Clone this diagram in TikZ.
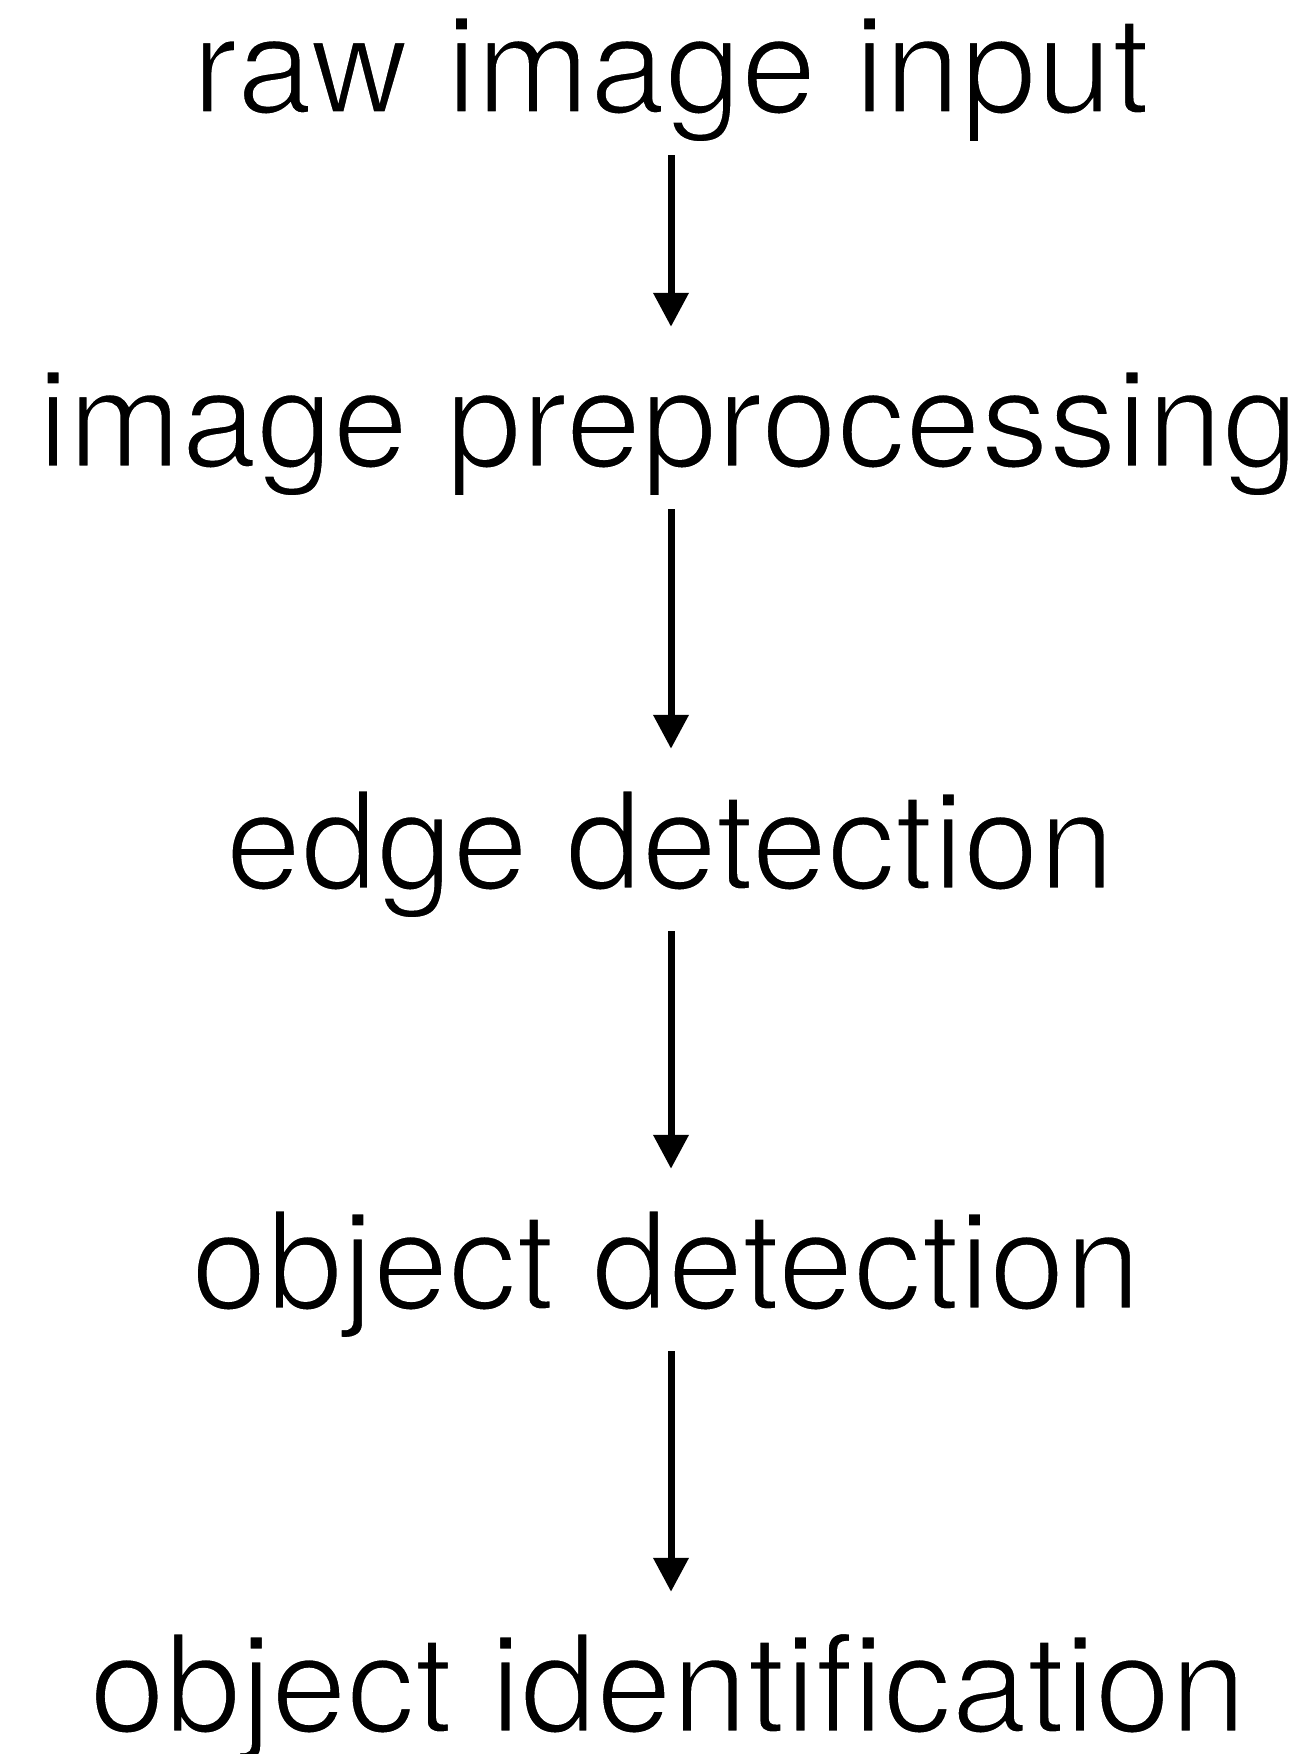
\documentclass[tikz,border=0pt]{standalone}
\usepackage{fontspec}
\setmainfont{TeX Gyre Heros}
\usetikzlibrary{arrows.meta}
\newcommand{\thintext}[1]{\special{pdf:literal direct q 1 G 2 Tr 3 w}#1\special{pdf:literal direct Q}}
\begin{document}
\begin{tikzpicture}[x=1pt,y=-1pt,
  label/.style={anchor=base,inner sep=0pt,text height=140pt,text depth=42pt,
    font=\fontsize{136}{136}\selectfont},
  flow/.style={line width=7pt,-{Triangle[width=34pt,length=34pt]}}]
\useasboundingbox[fill=white] (0,0) rectangle (1312,1754);
\node[label] (raw)  at (671,113)  {\thintext{raw image input}};
\node[label] (pre)  at (668,467)  {\thintext{image preprocessing}};
\node[label] (edge) at (670,889)  {\thintext{edge detection}};
\node[label] (obj)  at (666,1309) {\thintext{object detection}};
\node[label] (ident) at (668,1732) {\thintext{object identification}};
\draw[flow] (raw.south -| 671,0) -- (pre.north -| 671,0);
\draw[flow] (pre.south -| 671,0) -- (edge.north -| 671,0);
\draw[flow] (edge.south -| 671,0) -- (obj.north -| 671,0);
\draw[flow] (obj.south -| 671,0) -- (ident.north -| 671,0);
\end{tikzpicture}
\end{document}
